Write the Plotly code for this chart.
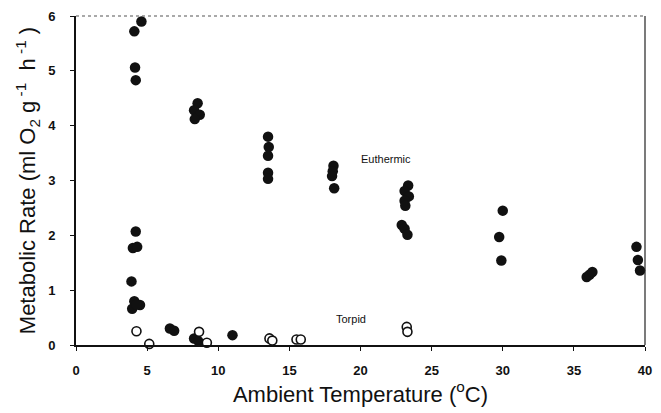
import plotly.graph_objects as go

# Filled circles: metabolic rate of animals at each ambient temperature
filled_temp = [4.6, 4.1, 4.15, 4.2, 8.55, 8.3, 8.7, 8.35,
               4.2, 4.0, 4.3, 3.9, 4.1, 4.5, 3.95, 4.25,
               6.6, 6.9, 8.3, 8.6, 11.0,
               13.5, 13.55, 13.5, 13.5, 13.5,
               18.1, 18.05, 18.0, 18.15,
               23.35, 23.1, 23.4, 23.1, 23.15, 22.9, 23.1, 23.3,
               30.0, 29.75, 29.9,
               35.9, 36.1, 36.3,
               39.4, 39.5, 39.65]
filled_rate = [5.90, 5.72, 5.06, 4.83, 4.41, 4.28, 4.20, 4.12,
               2.07, 1.77, 1.79, 1.16, 0.80, 0.73, 0.66, 0.74,
               0.30, 0.26, 0.12, 0.07, 0.18,
               3.80, 3.61, 3.45, 3.14, 3.03,
               3.27, 3.17, 3.08, 2.86,
               2.91, 2.81, 2.71, 2.63, 2.54, 2.19, 2.12, 2.01,
               2.45, 1.97, 1.54,
               1.24, 1.28, 1.33,
               1.79, 1.55, 1.36]

# Open circles: torpid animals
open_temp = [4.25, 5.15, 8.65, 9.2, 13.6, 13.8, 15.5, 15.8, 23.25, 23.3]
open_rate = [0.25, 0.02, 0.24, 0.04, 0.12, 0.08, 0.10, 0.10, 0.33, 0.24]

x_ticks = [0, 5, 10, 15, 20, 25, 30, 35, 40]
y_ticks = [0, 1, 2, 3, 4, 5, 6]

FONT = "Liberation Sans"
INK = "#111111"
NB = "\u00a0"

fig = go.Figure()
fig.add_trace(go.Scatter(
    x=filled_temp, y=filled_rate, mode="markers", name="Euthermic",
    marker=dict(size=10.5, color=INK, line=dict(width=0)),
    cliponaxis=False,
))
fig.add_trace(go.Scatter(
    x=open_temp, y=open_rate, mode="markers", name="Torpid",
    marker=dict(size=9, color="white", line=dict(width=1.6, color=INK)),
    cliponaxis=False,
))

fig.add_annotation(x=21.8, y=3.39, text="Euthermic", showarrow=False,
                   font=dict(family=FONT, size=11, color=INK))
fig.add_annotation(x=19.3, y=0.48, text="Torpid", showarrow=False,
                   font=dict(family=FONT, size=11, color=INK))

# top and right frame lines
fig.add_shape(type="line", xref="paper", yref="paper", x0=0, x1=1, y0=1, y1=1,
              line=dict(color="#555555", width=1.2, dash="dot"))
fig.add_shape(type="line", xref="paper", yref="paper", x0=1, x1=1, y0=0, y1=1,
              line=dict(color="#222222", width=1.2))

tick_font = dict(family=FONT, size=13, color=INK)
title_font = dict(family=FONT, size=22, color=INK)

y_title = ("Metabolic Rate (ml O<sub>2</sub>" + NB + "g<sup>" + NB + "-1</sup>"
           + NB + NB + "h<sup>" + NB + "-1</sup>" + NB + ")")

fig.update_layout(
    width=661, height=413,
    margin=dict(l=76, r=9, t=10, b=68),
    paper_bgcolor="white", plot_bgcolor="white",
    showlegend=False,
    xaxis=dict(range=[0, 40], tickmode="array", tickvals=x_ticks,
               ticktext=[f"<b>{t}</b>" for t in x_ticks], showline=True,
               linecolor=INK, linewidth=1.5, showgrid=False, zeroline=False,
               ticks="outside", ticklen=4, tickwidth=1.2, tickcolor=INK,
               ticklabelstandoff=9, tickfont=tick_font,
               title=dict(text="Ambient Temperature (<sup>o</sup>C)",
                          font=title_font, standoff=8)),
    yaxis=dict(range=[0, 6], tickmode="array", tickvals=y_ticks,
               ticktext=[f"<b>{t}</b>" for t in y_ticks], showline=True,
               linecolor=INK, linewidth=2, showgrid=False, zeroline=False,
               ticks="outside", ticklen=4, tickwidth=1.2, tickcolor=INK,
               ticklabelstandoff=12, tickfont=tick_font,
               title=dict(text=y_title, font=title_font, standoff=6)),
)

fig.write_html("out.html")
